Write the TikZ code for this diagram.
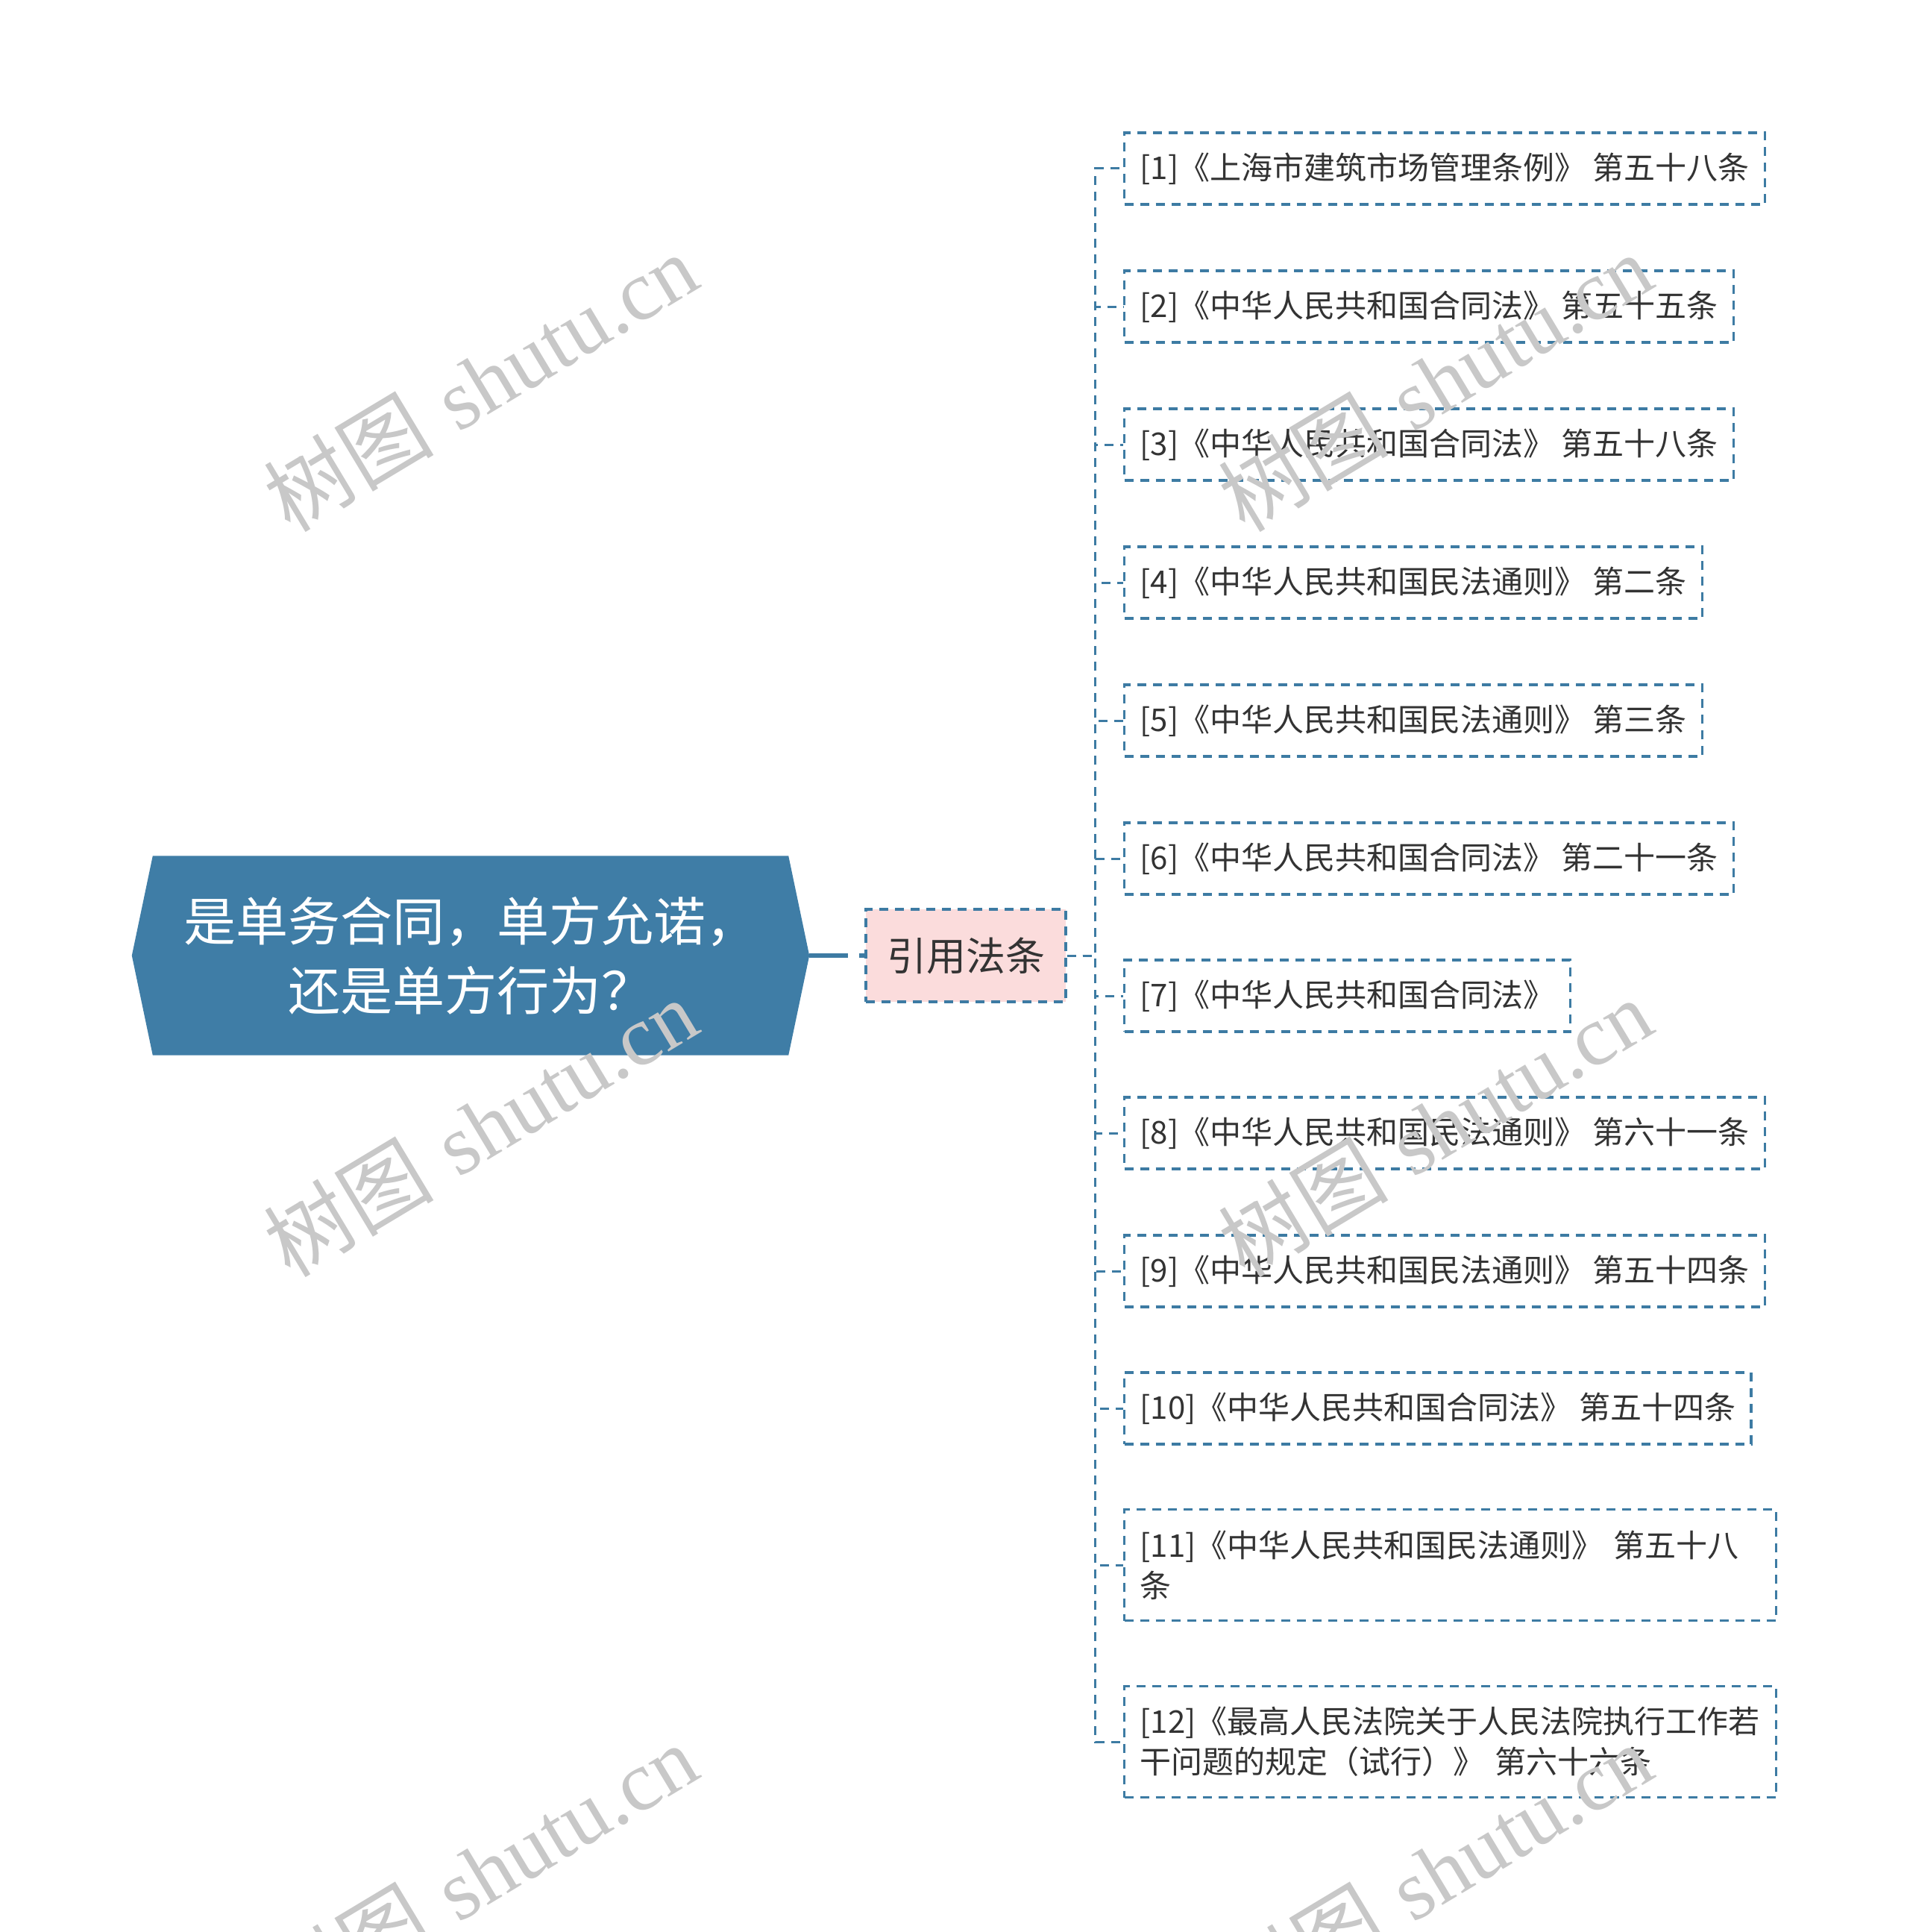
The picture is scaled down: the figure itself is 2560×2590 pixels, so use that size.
\documentclass[tikz,border=0pt]{standalone}
\usepackage{fontspec}
\newfontfamily\cjk{Noto Sans CJK SC}
\newfontfamily\wmserif{Liberation Serif}
\usetikzlibrary{backgrounds}
\definecolor{lineblue}{HTML}{3D7BA3}
\definecolor{rootblue}{HTML}{3F7DA6}
\definecolor{midpink}{HTML}{FBDCDC}
\definecolor{txt}{HTML}{333333}
\definecolor{wm}{HTML}{C8C8C8}
\begin{document}
\begin{tikzpicture}[x=1pt,y=-1pt,
  rootbox/.style={minimum width=852pt,minimum height=267pt,inner sep=0pt,align=center,
    text=white,font=\cjk\fontsize{70pt}{93pt}\selectfont},
  midbox/.style={draw=lineblue,line width=3.5pt,dash pattern=on 12pt off 9pt,fill=midpink,
    minimum width=268pt,minimum height=124pt,inner sep=0pt,text=txt,
    font=\cjk\fontsize{53pt}{64pt}\selectfont},
  leaf/.style={draw=lineblue,line width=3.2pt,dash pattern=on 12pt off 9pt,anchor=west,
    inner xsep=21pt,inner ysep=0pt,minimum height=96pt,text=txt,align=left,
    font=\cjk\fontsize{42pt}{54pt}\selectfont},
  leaftwo/.style={leaf,text width=832pt,minimum height=149pt},
  conn/.style={draw=lineblue,line width=3pt,dash pattern=on 12pt off 9pt},
  mainconn/.style={draw=lineblue,line width=5.5pt,dash pattern=on 52pt off 15pt},
  wmark/.style={text=wm,rotate=31,font=\fontsize{114pt}{120pt}\selectfont}
]
\useasboundingbox (0,0) rectangle (2560,2590);

\node[rootbox] (root) at (631,1281) {是单务合同，单方允诺，\\还是单方行为？};
\begin{scope}[on background layer]
\fill[white] (0,0) rectangle (2560,2590);
\fill[rootblue] (root.north west) -- (root.north east) -- ([xshift=28pt]root.east)
  -- (root.south east) -- (root.south west) -- ([xshift=-28pt]root.west) -- cycle;
\end{scope}

\node[midbox] (mid) at (1295,1281) {引用法条};

\node[leaf] (l1) at (1506,226) {[1]《上海市建筑市场管理条例》 第五十八条};
\node[leaf] (l2) at (1506,411) {[2]《中华人民共和国合同法》 第五十五条};
\node[leaf] (l3) at (1506,596) {[3]《中华人民共和国合同法》 第五十八条};
\node[leaf] (l4) at (1506,781) {[4]《中华人民共和国民法通则》 第二条};
\node[leaf] (l5) at (1506,966) {[5]《中华人民共和国民法通则》 第三条};
\node[leaf] (l6) at (1506,1151) {[6]《中华人民共和国合同法》 第二十一条};
\node[leaf] (l7) at (1506,1335) {[7]《中华人民共和国合同法》};
\node[leaf] (l8) at (1506,1519) {[8]《中华人民共和国民法通则》 第六十一条};
\node[leaf] (l9) at (1506,1704) {[9]《中华人民共和国民法通则》 第五十四条};
\node[leaf] (l10) at (1506,1888) {[10]《中华人民共和国合同法》 第五十四条};
\node[leaftwo] (l11) at (1506,2098) {[11]《中华人民共和国民法通则》 第五十八\\条};
\node[leaftwo] (l12) at (1506,2335) {[12]《最高人民法院关于人民法院执行工作若\\干问题的规定（试行）》 第六十六条};

\draw[mainconn] (root.east) ++(28pt,0) -- (mid.west);
\foreach \n in {1,...,12}{
  \draw[conn] (mid.east) -- ++(38pt,0) |- (l\n.west);
}

\node[wmark] at (644,512) {{\cjk 树图} {\wmserif shutu.cn}};
\node[wmark] at (644,1511) {{\cjk 树图} {\wmserif shutu.cn}};
\node[wmark] at (644,2510) {{\cjk 树图} {\wmserif shutu.cn}};
\node[wmark] at (1924,512) {{\cjk 树图} {\wmserif shutu.cn}};
\node[wmark] at (1924,1511) {{\cjk 树图} {\wmserif shutu.cn}};
\node[wmark] at (1924,2510) {{\cjk 树图} {\wmserif shutu.cn}};
\end{tikzpicture}
\end{document}
